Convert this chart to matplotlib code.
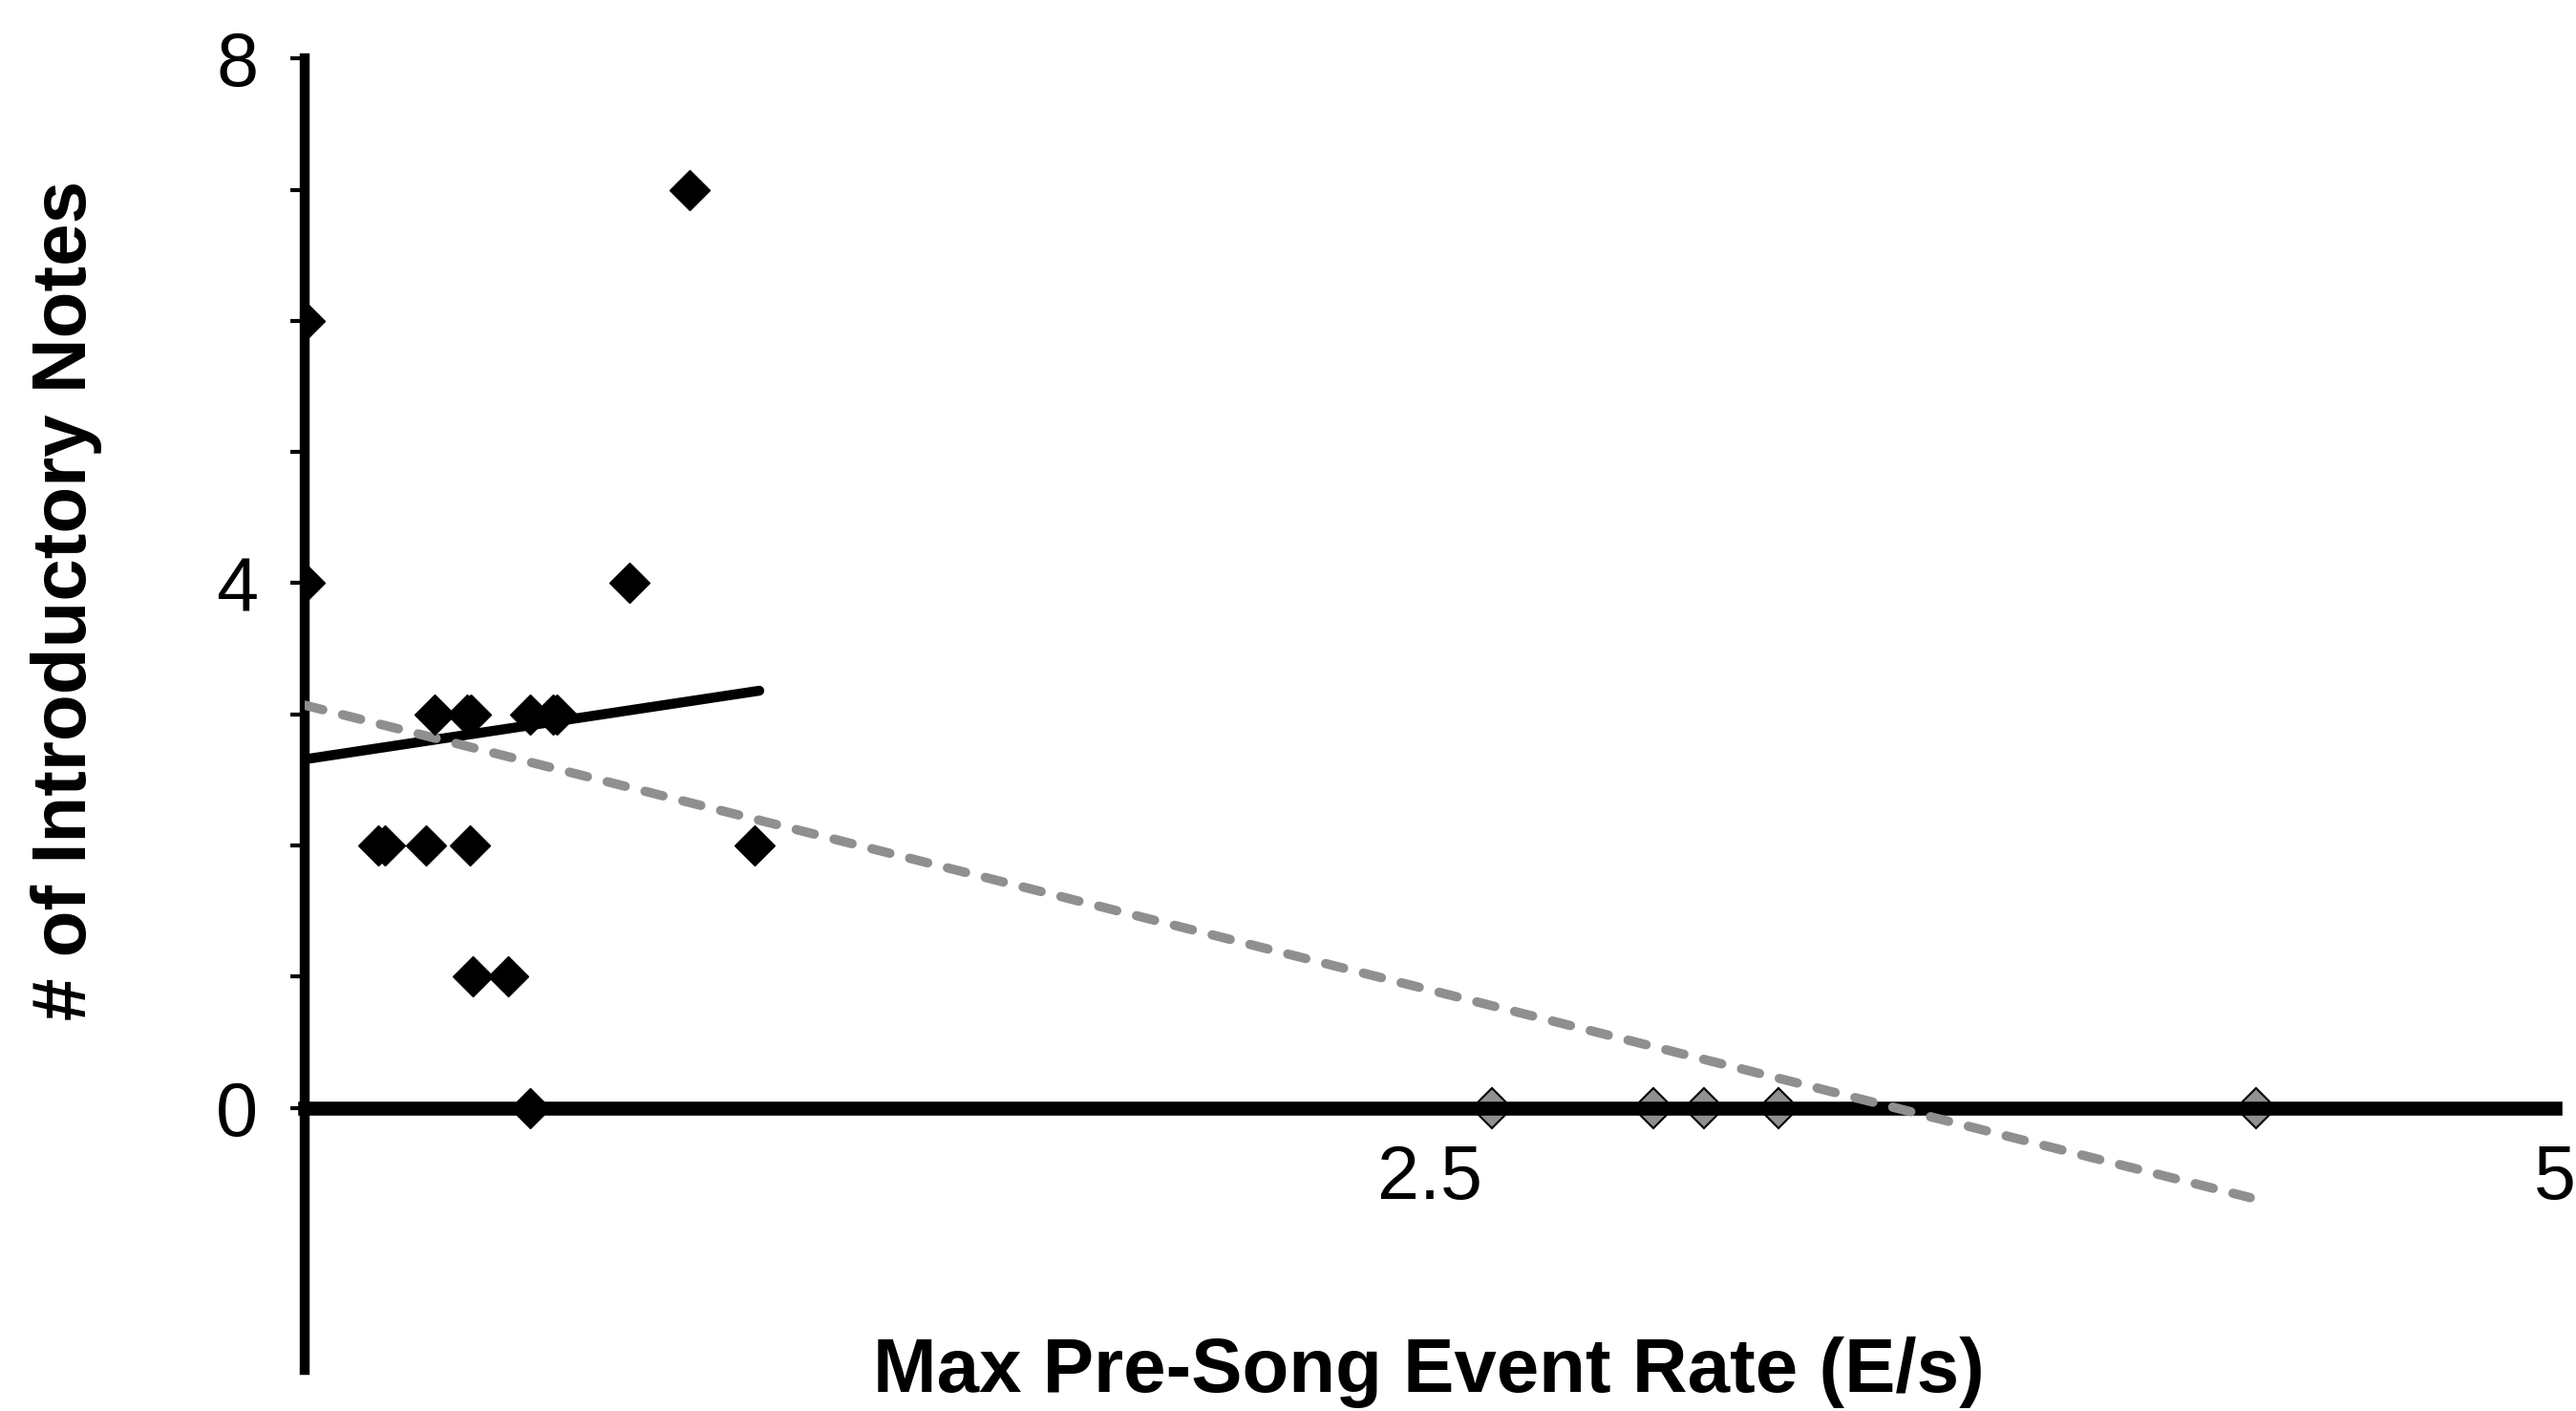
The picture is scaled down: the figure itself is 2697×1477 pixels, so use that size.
import matplotlib
matplotlib.use("Agg")
import matplotlib.pyplot as plt

plt.rcParams['font.family'] = ['Liberation Sans', 'DejaVu Sans']

# birds that sang: max pre-song event rate vs number of intro notes
sang_rate = [0.0, 0.0, 0.856, 0.721,
             0.289, 0.361, 0.369, 0.50, 0.552, 0.560,
             0.163, 0.179, 0.269, 0.366, 1.0,
             0.374, 0.451, 0.50]
sang_notes = [6, 4, 7, 4,
              3, 3, 3, 3, 3, 3,
              2, 2, 2, 2, 2,
              1, 1, 0]

# birds with no introductory notes at all
none_rate = [2.638, 2.996, 3.110, 3.275, 4.336]
none_notes = [0, 0, 0, 0, 0]

# trend lines (end points)
fit_sang_x = [0.0, 1.01]
fit_sang_y = [2.657, 3.18]
fit_all_x = [0.0, 4.323]
fit_all_y = [3.07, -0.686]

xticks = [2.5, 5]
xticklabels = ['2.5', '5']
yticks = list(range(0, 9))
yticklabels = ['0', '', '', '', '4', '', '', '', '8']

fig = plt.figure(figsize=(26.97, 14.77), dpi=100)
ax = fig.add_axes([0.1183, 0.0291, 0.8735, 0.9293])

ax.plot(fit_sang_x, fit_sang_y, color='black', lw=7.5,
        solid_capstyle='round', zorder=3)
ax.plot(fit_all_x, fit_all_y, color='#8f8f8f', lw=7,
        dashes=(2.0, 2.2), dash_capstyle='round', zorder=3.5)

ax.plot(none_rate, none_notes, ls='none', marker='D', ms=21.5,
        mfc='#909090', mec='black', mew=1.5, zorder=2)
ax.plot(sang_rate, sang_notes, ls='none', marker='D', ms=21.5,
        mfc='black', mec='black', mew=1, zorder=4)

ax.set_xlim(0, 5)
ax.set_ylim(-2, 8)

for side in ('top', 'right'):
    ax.spines[side].set_visible(False)
ax.spines['left'].set_linewidth(7.5)
ax.spines['bottom'].set_position(('data', 0))
ax.spines['bottom'].set_linewidth(10.5)

ax.set_xticks(xticks)
ax.set_xticklabels(xticklabels)
ax.set_yticks(yticks)
ax.set_yticklabels(yticklabels)
ax.tick_params(axis='x', length=0, pad=27, labelsize=57)
ax.tick_params(axis='y', direction='out', length=11, width=3,
               pad=24, labelsize=57)

ax.set_xlabel('Max Pre-Song Event Rate (E/s)', fontsize=57.5,
              fontweight='bold', va='top')
ax.xaxis.set_label_coords(0.5547, 0.053, transform=fig.transFigure)
ax.set_ylabel('# of Introductory Notes', fontsize=57.5, fontweight='bold',
              va='bottom')
ax.yaxis.set_label_coords(0.0397, 0.5748, transform=fig.transFigure)

fig.savefig('out.png', dpi=100)
